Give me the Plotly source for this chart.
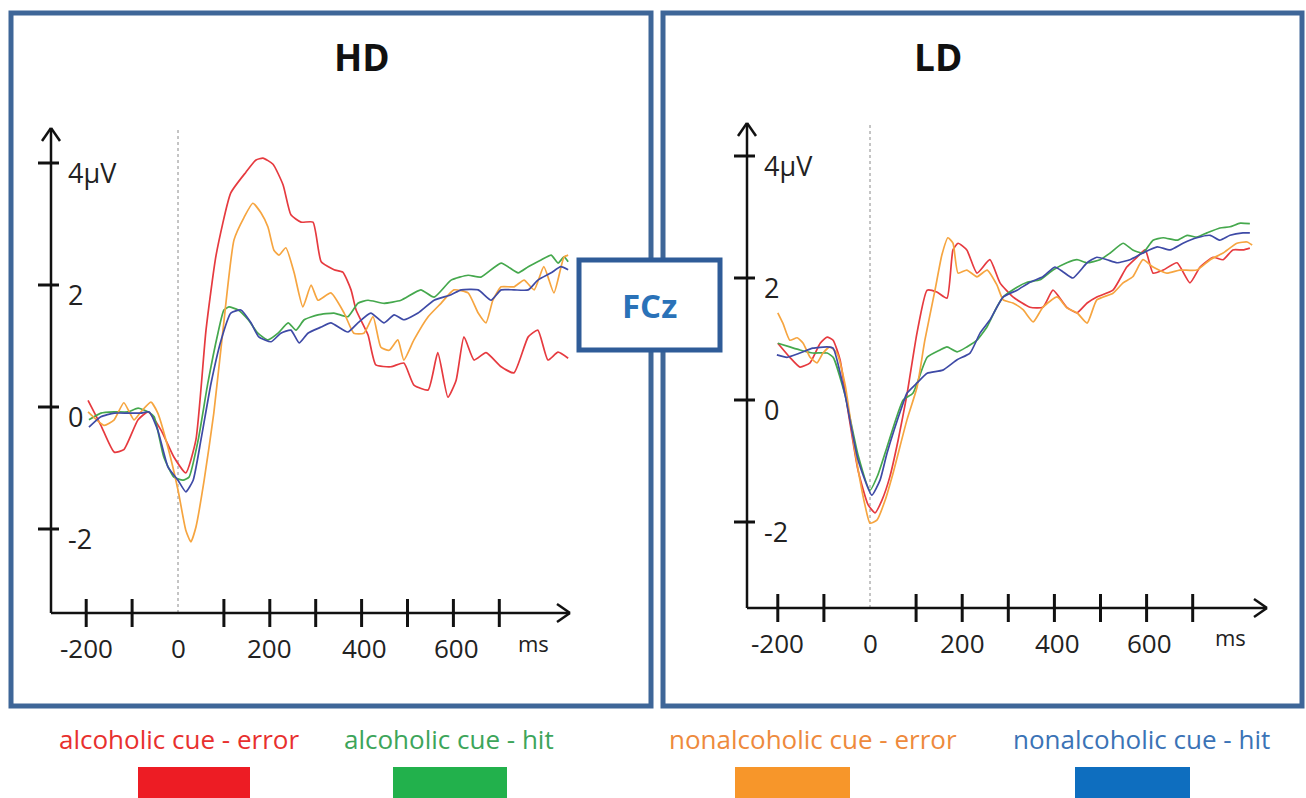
import plotly.graph_objects as go

W, H = 1306, 798

# ---------------- data (ms, µV) ----------------
# HD panel
hd_red_ms = [-196, -168, -139, -118, -87, -65, -37, -9, 17, 39, 61, 83, 115, 148, 170, 185, 207, 229, 246, 268, 294, 312, 340, 359, 377, 388, 414, 431, 464, 492, 514, 545, 566, 588, 606, 623, 645, 671, 704, 732, 763, 784, 806, 828, 850]
hd_red_uv = [0.11, -0.30, -0.74, -0.70, -0.21, -0.08, -0.38, -0.82, -1.08, -0.54, 1.26, 2.49, 3.51, 3.85, 4.05, 4.08, 3.98, 3.64, 3.15, 3.03, 3.03, 2.38, 2.25, 2.21, 1.92, 1.59, 1.18, 0.69, 0.66, 0.72, 0.36, 0.28, 0.89, 0.16, 0.44, 1.15, 0.77, 0.89, 0.66, 0.56, 1.15, 1.26, 0.77, 0.90, 0.80]

hd_green_ms = [-194, -168, -139, -109, -87, -65, -52, -31, -9, 11, 24, 44, 65, 87, 100, 111, 131, 153, 174, 196, 218, 240, 257, 275, 305, 340, 370, 392, 414, 449, 486, 529, 558, 595, 632, 660, 704, 741, 763, 791, 813, 828, 841, 850]
hd_green_uv = [-0.21, -0.10, -0.08, -0.08, -0.02, -0.08, -0.16, -0.82, -1.15, -1.20, -1.15, -0.54, 0.39, 1.21, 1.59, 1.64, 1.59, 1.43, 1.21, 1.10, 1.21, 1.38, 1.26, 1.43, 1.51, 1.54, 1.48, 1.70, 1.75, 1.70, 1.75, 1.92, 1.80, 2.08, 2.16, 2.13, 2.36, 2.20, 2.30, 2.41, 2.49, 2.36, 2.46, 2.38]

hd_orange_ms = [-196, -161, -139, -118, -96, -81, -59, -44, -22, 0, 17, 28, 39, 57, 78, 98, 122, 144, 163, 181, 196, 209, 220, 235, 253, 272, 290, 305, 333, 362, 383, 405, 425, 442, 460, 479, 492, 514, 545, 573, 601, 632, 654, 671, 686, 704, 732, 754, 776, 797, 819, 841, 850]
hd_orange_uv = [-0.08, -0.30, -0.21, 0.07, -0.21, -0.08, 0.08, -0.10, -0.66, -1.36, -2.02, -2.21, -1.97, -1.20, -0.10, 1.26, 2.74, 3.11, 3.34, 3.18, 2.95, 2.57, 2.49, 2.61, 2.20, 1.64, 2.00, 1.75, 1.87, 1.54, 1.21, 1.21, 1.48, 0.98, 0.93, 1.10, 0.77, 1.10, 1.48, 1.70, 1.92, 1.87, 1.54, 1.38, 1.75, 1.97, 1.97, 2.08, 1.92, 2.30, 1.87, 2.46, 2.49]

hd_blue_ms = [-194, -168, -139, -109, -81, -63, -44, -22, 0, 17, 33, 50, 72, 94, 115, 137, 159, 176, 203, 224, 246, 264, 283, 312, 333, 370, 392, 420, 449, 471, 492, 523, 558, 595, 617, 654, 682, 704, 732, 763, 784, 813, 834, 850]
hd_blue_uv = [-0.33, -0.16, -0.10, -0.10, -0.10, -0.08, -0.38, -0.98, -1.20, -1.39, -1.20, -0.54, 0.39, 1.10, 1.54, 1.59, 1.38, 1.15, 1.07, 1.21, 1.26, 1.05, 1.21, 1.31, 1.38, 1.23, 1.38, 1.54, 1.38, 1.51, 1.43, 1.54, 1.75, 1.84, 1.92, 1.92, 1.75, 1.92, 1.92, 1.92, 2.08, 2.20, 2.30, 2.25]

# LD panel
ld_red_ms = [-200, -174, -152, -130, -108, -93, -80, -65, -48, -26, -4, 11, 26, 43, 61, 80, 102, 124, 145, 167, 180, 191, 210, 232, 260, 282, 310, 347, 375, 397, 427, 449, 471, 492, 527, 557, 579, 597, 614, 636, 666, 694, 716, 744, 766, 787, 809, 824]
ld_red_uv = [0.93, 0.70, 0.54, 0.61, 0.93, 1.03, 0.98, 0.66, -0.16, -1.15, -1.72, -1.85, -1.64, -1.26, -0.66, 0.08, 1.10, 1.80, 1.77, 1.67, 2.46, 2.57, 2.46, 2.08, 2.30, 1.92, 1.69, 1.52, 1.52, 1.80, 1.52, 1.43, 1.59, 1.69, 1.80, 2.18, 2.34, 2.46, 2.08, 2.13, 2.25, 1.92, 2.18, 2.34, 2.30, 2.46, 2.46, 2.49]

ld_green_ms = [-200, -174, -152, -124, -93, -80, -54, -26, 0, 17, 37, 72, 93, 124, 152, 167, 189, 210, 232, 254, 275, 289, 319, 341, 369, 397, 427, 449, 471, 499, 521, 549, 570, 592, 614, 636, 666, 688, 709, 731, 759, 781, 803, 824]
ld_green_uv = [0.93, 0.87, 0.82, 0.77, 0.77, 0.70, 0.08, -0.90, -1.48, -1.23, -0.77, 0.00, 0.11, 0.70, 0.82, 0.87, 0.79, 0.87, 0.98, 1.20, 1.52, 1.69, 1.85, 1.93, 1.97, 2.13, 2.25, 2.30, 2.25, 2.30, 2.41, 2.57, 2.46, 2.41, 2.62, 2.66, 2.62, 2.70, 2.67, 2.74, 2.82, 2.84, 2.90, 2.89]

ld_orange_ms = [-200, -189, -174, -158, -145, -130, -115, -102, -87, -72, -54, -33, -11, 0, 15, 33, 50, 80, 102, 119, 141, 156, 169, 180, 191, 210, 232, 254, 275, 289, 310, 332, 354, 375, 406, 427, 449, 471, 492, 527, 549, 570, 592, 614, 644, 672, 709, 738, 766, 796, 818, 829]
ld_orange_uv = [1.43, 1.26, 0.98, 1.02, 0.93, 0.70, 0.61, 0.77, 0.87, 0.77, 0.25, -0.82, -1.72, -2.02, -1.97, -1.64, -1.20, -0.33, 0.21, 0.98, 1.80, 2.38, 2.66, 2.57, 2.08, 2.13, 2.02, 2.13, 1.89, 1.64, 1.59, 1.48, 1.28, 1.52, 1.69, 1.51, 1.43, 1.26, 1.64, 1.75, 1.92, 2.02, 2.30, 2.18, 2.08, 2.13, 2.13, 2.30, 2.41, 2.57, 2.59, 2.54]

ld_blue_ms = [-202, -180, -152, -124, -93, -80, -54, -26, 4, 22, 37, 72, 80, 102, 124, 158, 189, 217, 239, 260, 289, 319, 347, 375, 401, 419, 440, 471, 492, 514, 536, 564, 592, 623, 651, 679, 709, 738, 759, 781, 809, 824]
ld_blue_uv = [0.74, 0.70, 0.77, 0.85, 0.87, 0.85, 0.08, -0.98, -1.56, -1.31, -0.87, -0.05, 0.11, 0.28, 0.44, 0.49, 0.66, 0.77, 1.10, 1.31, 1.69, 1.80, 1.93, 2.02, 2.18, 2.10, 2.00, 2.25, 2.34, 2.30, 2.25, 2.30, 2.41, 2.51, 2.46, 2.57, 2.66, 2.70, 2.62, 2.70, 2.74, 2.74]

x_ticks = [-200, -100, 100, 200, 300, 400, 500, 600, 700]
x_tick_labels = [-200, 0, 200, 400, 600]
y_ticks = [4, 2, 0, -2]
y_tick_labels = ["4µV", "2", "0", "-2"]

legend_labels = ["alcoholic cue - error", "alcoholic cue - hit",
                 "nonalcoholic cue - error", "nonalcoholic cue - hit"]

# ---------------- styles ----------------
LINE_COLORS = {"red": "#e63a3f", "green": "#45a84d", "orange": "#f6a540", "blue": "#3e4aa6"}
LEG_TEXT_COLORS = ["#e8302e", "#3da55a", "#ee8a3c", "#3b73b6"]
LEG_RECT_COLORS = ["#ed1c24", "#22b14c", "#f7962a", "#0e6ebf"]
BORDER = "#3e6698"
FONT = "Open Sans"
AX = "#111111"

# panel geometry (pixels)
panels = [
    dict(title="HD", xa="x", ya="y", xk="xaxis", yk="yaxis",
         x0=178.0, sx=0.459, y0=407.0, sy=61.0, dom_x=(20, 640), dom_y=(20, 700),
         ax_left=51, ax_right=570, ax_bottom=613, ax_top=128, dot_top=127,
         title_px=(362, 56), ms_px=(533, 643), lab_shift=-35,
         series=[(hd_red_ms, hd_red_uv, "red"), (hd_green_ms, hd_green_uv, "green"),
                 (hd_orange_ms, hd_orange_uv, "orange"), (hd_blue_ms, hd_blue_uv, "blue")]),
    dict(title="LD", xa="x2", ya="y2", xk="xaxis2", yk="yaxis2",
         x0=870.0, sx=0.461, y0=400.0, sy=61.0, dom_x=(672, 1295), dom_y=(20, 700),
         ax_left=747, ax_right=1267, ax_bottom=608, ax_top=123, dot_top=122,
         title_px=(938, 56), ms_px=(1230, 637), lab_shift=-35,
         series=[(ld_red_ms, ld_red_uv, "red"), (ld_green_ms, ld_green_uv, "green"),
                 (ld_orange_ms, ld_orange_uv, "orange"), (ld_blue_ms, ld_blue_uv, "blue")]),
]

fig = go.Figure()
shapes = []
annotations = []
layout_axes = {}

def px_x(px):
    return px / W

def px_y(py):
    return 1 - py / H

for p in panels:
    to_ms = lambda px, p=p: (px - p["x0"]) / p["sx"]
    to_uv = lambda py, p=p: (p["y0"] - py) / p["sy"]
    layout_axes[p["xk"]] = dict(domain=[px_x(p["dom_x"][0]), px_x(p["dom_x"][1])],
                                range=[to_ms(p["dom_x"][0]), to_ms(p["dom_x"][1])],
                                visible=False, fixedrange=True, anchor=p["ya"])
    layout_axes[p["yk"]] = dict(domain=[px_y(p["dom_y"][1]), px_y(p["dom_y"][0])],
                                range=[to_uv(p["dom_y"][1]), to_uv(p["dom_y"][0])],
                                visible=False, fixedrange=True, anchor=p["xa"])
    xl, xr = to_ms(p["ax_left"]), to_ms(p["ax_right"])
    yb, yt = to_uv(p["ax_bottom"]), to_uv(p["ax_top"])
    ref = dict(xref=p["xa"], yref=p["ya"])

    # zero dotted line
    shapes.append(dict(type="line", x0=0, x1=0, y0=yb, y1=to_uv(p["dot_top"]),
                       line=dict(color="#8a8a8a", width=1, dash="dot"), layer="below", **ref))
    # axis lines
    shapes.append(dict(type="line", x0=xl, x1=xr, y0=yb, y1=yb, line=dict(color=AX, width=2.5), **ref))
    shapes.append(dict(type="line", x0=xl, x1=xl, y0=yb, y1=yt, line=dict(color=AX, width=2.5), **ref))
    # arrow heads (open chevrons)
    for dy in (9, -9):
        shapes.append(dict(type="line", xsizemode="pixel", ysizemode="pixel", xanchor=xr, yanchor=yb,
                           x0=0, y0=0, x1=-13, y1=dy, line=dict(color=AX, width=2.5), **ref))
    for dx in (9, -9):
        shapes.append(dict(type="line", xsizemode="pixel", ysizemode="pixel", xanchor=xl, yanchor=yt,
                           x0=0, y0=0, x1=dx, y1=-13, line=dict(color=AX, width=2.5), **ref))
    # x ticks (crossing the axis)
    for t in x_ticks:
        shapes.append(dict(type="line", xsizemode="pixel", ysizemode="pixel", xanchor=t, yanchor=yb,
                           x0=0, x1=0, y0=-14, y1=14, line=dict(color=AX, width=3), **ref))
    # y ticks
    for t in y_ticks:
        shapes.append(dict(type="line", xsizemode="pixel", ysizemode="pixel", xanchor=xl, yanchor=t,
                           x0=-13, x1=8, y0=0, y1=0, line=dict(color=AX, width=3), **ref))
    # tick labels
    for t in x_tick_labels:
        annotations.append(dict(x=t, y=yb, text=str(t), showarrow=False, xanchor="center", yanchor="middle",
                                xshift=3 if t > 200 else 0,
                                yshift=p["lab_shift"], font=dict(family=FONT, size=26, color="#222222"), **ref))
    for t, lab in zip(y_ticks, y_tick_labels):
        annotations.append(dict(x=xl, y=t, text=lab, showarrow=False, xanchor="left", yanchor="middle",
                                xshift=15, yshift=-9, font=dict(family=FONT, size=27, color="#222222"), **ref))
    annotations.append(dict(x=px_x(p["ms_px"][0]), y=px_y(p["ms_px"][1]), xref="paper", yref="paper",
                            text="ms", showarrow=False, xanchor="center", yanchor="middle",
                            font=dict(family=FONT, size=22, color="#222222")))
    annotations.append(dict(x=px_x(p["title_px"][0]), y=px_y(p["title_px"][1]), xref="paper", yref="paper",
                            text="<b>%s</b>" % p["title"], showarrow=False, xanchor="center", yanchor="middle",
                            font=dict(family=FONT, size=37, color="#111111")))
    # data lines
    for xs, ys, c in p["series"]:
        fig.add_trace(go.Scatter(x=xs, y=ys, mode="lines", xaxis=p["xa"], yaxis=p["ya"],
                                 line=dict(color=LINE_COLORS[c], width=1.7, shape="spline", smoothing=0.5),
                                 hoverinfo="skip", showlegend=False))

# panel frames
for (l, r) in [(11, 651), (663, 1302)]:
    shapes.append(dict(type="rect", xref="paper", yref="paper", x0=px_x(l), x1=px_x(r),
                       y0=px_y(706), y1=px_y(13), line=dict(color=BORDER, width=5), layer="above"))
# FCz box
shapes.append(dict(type="rect", xref="paper", yref="paper", x0=px_x(579), x1=px_x(720),
                   y0=px_y(350), y1=px_y(260), line=dict(color="#2f5c98", width=5),
                   fillcolor="white", layer="above"))
annotations.append(dict(x=px_x(649), y=px_y(306), xref="paper", yref="paper", text="<b>FCz</b>",
                        showarrow=False, xanchor="center", yanchor="middle",
                        font=dict(family=FONT, size=33, color="#2a72b8")))

# legend
text_cx = [179, 449, 813, 1141]
rect_x = [(138, 250), (393, 507), (735, 850), (1075, 1190)]
for lab, cx, tc, (rl, rr), rc in zip(legend_labels, text_cx, LEG_TEXT_COLORS, rect_x, LEG_RECT_COLORS):
    annotations.append(dict(x=px_x(cx), y=px_y(739), xref="paper", yref="paper", text=lab,
                            showarrow=False, xanchor="center", yanchor="middle",
                            font=dict(family=FONT, size=26, color=tc)))
    shapes.append(dict(type="rect", xref="paper", yref="paper", x0=px_x(rl), x1=px_x(rr),
                       y0=px_y(800), y1=px_y(767), line=dict(width=0), fillcolor=rc))

fig.update_layout(width=W, height=H, margin=dict(l=0, r=0, t=0, b=0),
                  paper_bgcolor="white", plot_bgcolor="white",
                  shapes=shapes, annotations=annotations, showlegend=False, **layout_axes)

fig.write_html("out.html", config={"displayModeBar": False})
